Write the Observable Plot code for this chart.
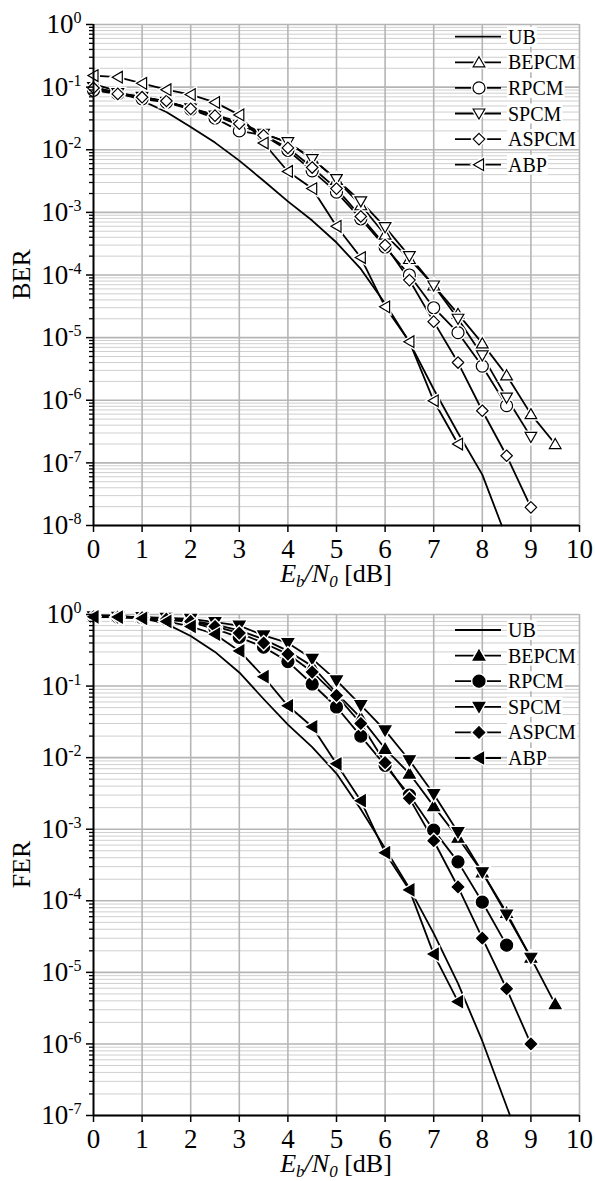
<!DOCTYPE html>
<html><head><meta charset="utf-8">
<script src="https://cdn.jsdelivr.net/npm/d3@7"></script>
<script src="https://cdn.jsdelivr.net/npm/@observablehq/plot@0.6"></script>
<style>
body{margin:0;background:#fff;}
#chart svg{display:block;}
#chart svg text{font-family:"Liberation Serif","Times New Roman",Times,serif;}
</style></head><body><div id="chart"></div>
<script>
// ---------- data ----------
const seriesNames = ["UB", "BEPCM", "RPCM", "SPCM", "ASPCM", "ABP"];
const xTicks = [0, 1, 2, 3, 4, 5, 6, 7, 8, 9, 10];
const ebn0 = [0, 0.5, 1, 1.5, 2, 2.5, 3, 3.5, 4, 4.5, 5, 5.5, 6, 6.5, 7, 7.5, 8, 8.5, 9, 9.5];
const berDecades = [1e-8, 1e-7, 1e-6, 1e-5, 1e-4, 1e-3, 1e-2, 1e-1, 1];
const ferDecades = [1e-7, 1e-6, 1e-5, 1e-4, 1e-3, 1e-2, 1e-1, 1];

// BER panel
const berUBx = [0, 0.5, 1, 1.5, 2, 2.5, 3, 3.5, 4, 4.5, 5, 5.5, 6, 6.5, 7, 7.5, 8, 8.4];
const berUB = [0.112, 0.086, 0.061, 0.040, 0.023, 0.013, 0.0067, 0.0032, 0.0015, 7.4e-4, 3.3e-4, 1.25e-4, 3.5e-5, 8.5e-6, 1.5e-6, 3.0e-7, 6.5e-8, 1e-8];
const berBEPCM = [0.10, 0.080, 0.070, 0.058, 0.046, 0.036, 0.028, 0.018, 0.013, 0.0072, 0.0033, 0.0013, 4.4e-4, 1.8e-4, 6.8e-5, 2.4e-5, 8.1e-6, 2.5e-6, 6.0e-7, 2.0e-7];
const berRPCM = [0.089, 0.078, 0.065, 0.057, 0.044, 0.032, 0.020, 0.017, 0.0098, 0.0046, 0.0021, 7.9e-4, 2.8e-4, 1.0e-4, 3.0e-5, 1.2e-5, 3.5e-6, 8.2e-7];
const berSPCM = [0.10, 0.080, 0.070, 0.058, 0.046, 0.035, 0.025, 0.018, 0.0132, 0.0071, 0.0034, 0.0015, 5.8e-4, 2.0e-4, 6.8e-5, 2.0e-5, 5.2e-6, 1.1e-6, 2.6e-7];
const berASPCM = [0.097, 0.078, 0.069, 0.060, 0.045, 0.035, 0.026, 0.017, 0.0107, 0.0052, 0.0024, 8.6e-4, 3.0e-4, 8.3e-5, 1.8e-5, 4.0e-6, 6.8e-7, 1.3e-7, 1.95e-8];
const berABP = [0.153, 0.144, 0.115, 0.091, 0.076, 0.057, 0.036, 0.0128, 0.0045, 0.0024, 6.0e-4, 1.9e-4, 3.1e-5, 8.6e-6, 9.8e-7, 2.0e-7];

// FER panel
const ferUBx = [0, 0.5, 1, 1.5, 2, 2.5, 3, 3.5, 4, 4.5, 5, 5.5, 6, 6.5, 7, 7.5, 8, 8.57];
const ferUB = [0.98, 0.96, 0.90, 0.74, 0.50, 0.30, 0.155, 0.066, 0.029, 0.014, 0.006, 0.0019, 5.4e-4, 1.5e-4, 3.5e-5, 7.0e-6, 1.1e-6, 1e-7];
const ferBEPCM = [0.93, 0.93, 0.91, 0.88, 0.82, 0.72, 0.60, 0.45, 0.31, 0.19, 0.080, 0.036, 0.0133, 0.0060, 0.0021, 7.6e-4, 2.5e-4, 6.8e-5, 1.6e-5, 3.6e-6];
const ferRPCM = [0.93, 0.92, 0.90, 0.85, 0.78, 0.63, 0.48, 0.35, 0.22, 0.107, 0.051, 0.020, 0.0078, 0.0030, 9.7e-4, 3.5e-4, 9.6e-5, 2.4e-5];
const ferSPCM = [0.94, 0.93, 0.92, 0.90, 0.87, 0.78, 0.70, 0.51, 0.40, 0.24, 0.12, 0.054, 0.024, 0.0092, 0.0031, 9.1e-4, 2.5e-4, 6.4e-5, 1.6e-5];
const ferASPCM = [0.93, 0.92, 0.90, 0.86, 0.80, 0.68, 0.55, 0.40, 0.28, 0.157, 0.074, 0.030, 0.0085, 0.0027, 6.9e-4, 1.56e-4, 3.0e-5, 5.9e-6, 1.0e-6];
const ferABP = [0.93, 0.92, 0.88, 0.80, 0.68, 0.53, 0.31, 0.135, 0.053, 0.027, 0.0082, 0.0025, 4.7e-4, 1.42e-4, 1.8e-5, 3.9e-6];

// ---------- symbols ----------
const SERIF = "Liberation Serif, Times New Roman, Times, serif";
const poly = (pts) => ({draw(ctx, size) {
  const r = Math.sqrt(size / Math.PI);
  ctx.moveTo(pts[0][0] * r, pts[0][1] * r);
  for (let i = 1; i < pts.length; i++) ctx.lineTo(pts[i][0] * r, pts[i][1] * r);
  ctx.closePath();
}});
const triUp = poly([[0, -1.05], [1.1, 0.85], [-1.1, 0.85]]);
const triDown = poly([[0, 1.05], [1.1, -0.85], [-1.1, -0.85]]);
const triLeft = poly([[-1.05, 0], [0.85, -1.1], [0.85, 1.1]]);
const diamond = poly([[0, -1.15], [1.15, 0], [0, 1.15], [-1.15, 0]]);
const circle = d3.symbolCircle;
const symbolOf = {BEPCM: triUp, RPCM: circle, SPCM: triDown, ASPCM: diamond, ABP: triLeft};
const radiusOf = {BEPCM: 5.3, RPCM: 6, SPCM: 5.3, ASPCM: 5, ABP: 5.3};

const rowsOf = (name, xs, ys) => ys.map((v, i) => ({name, x: xs[i], y: v}));

function panel(cfg) {
  const {decades, ubx, ub, vals, height, marginBottom, filled} = cfg;
  const minors = decades.slice(0, -1).flatMap(d => [2, 3, 4, 5, 6, 7, 8, 9].map(k => k * d));
  const names = ["BEPCM", "RPCM", "SPCM", "ASPCM", "ABP"];
  const sets = names.map(n => ({name: n, rows: rowsOf(n, ebn0, vals[n])}));
  const lineRows = rowsOf("UB", ubx, ub).concat(...sets.map(s => s.rows));
  const marks = [
    Plot.ruleY(minors, {stroke: "#cfcfcf", strokeWidth: 1}),
    Plot.ruleY(decades, {stroke: "#b5b5b5", strokeWidth: 1.6}),
    Plot.ruleX(xTicks.slice(1), {stroke: "#b5b5b5", strokeWidth: 1.6}),
    Plot.line(lineRows, {x: "x", y: "y", z: "name", stroke: "black", strokeWidth: 1.8}),
  ];
  for (const s of sets) {
    marks.push(Plot.dot(s.rows, {x: "x", y: "y", symbol: symbolOf[s.name], r: radiusOf[s.name], fill: "white", stroke: "white", strokeWidth: 4}));
    marks.push(Plot.dot(s.rows, {x: "x", y: "y", symbol: symbolOf[s.name], r: radiusOf[s.name], fill: filled ? "black" : "white", stroke: "black", strokeWidth: 1.2}));
  }
  marks.push(
    Plot.ruleX([0], {stroke: "black", strokeWidth: 2}),
    Plot.ruleY([decades[0]], {stroke: "black", strokeWidth: 2}),
    Plot.axisY(minors, {tickSize: 4, tickFormat: () => "", stroke: "black", strokeWidth: 1.3, label: null}),
    Plot.axisY(decades, {tickSize: 7, tickPadding: 5, tickFormat: d => "10^" + Math.round(Math.log10(d)), fontSize: 27, stroke: "black", strokeWidth: 1.5, label: null}),
    Plot.axisX(xTicks, {tickSize: 7, tickPadding: 6, tickFormat: d => String(d), fontSize: 27, stroke: "black", strokeWidth: 1.5, label: null})
  );
  return Plot.plot({
    width: 595, height, marginLeft: 93, marginRight: 16, marginTop: 24, marginBottom,
    style: {fontFamily: SERIF, fontSize: "27px", background: "white", color: "black", overflow: "visible"},
    x: {domain: [0, 10], label: null},
    y: {type: "log", domain: [decades[0], 1], label: null},
    marks
  });
}

function decorate(svg, cfg) {
  const s = d3.select(svg);
  s.attr("font-family", SERIF);
  // superscript exponents on y tick labels
  s.selectAll("text").each(function() {
    const t = d3.select(this);
    const m = (this.textContent || "").match(/^10\^(-?\d+)$/);
    if (!m) return;
    t.text("");
    t.append("tspan").text("10");
    t.append("tspan").attr("dy", "-10").attr("font-size", 16).text(m[1]);
  });
  const H = +svg.getAttribute("height");
  const top = 24, bottom = H - cfg.marginBottom;
  // y title
  s.append("text").attr("transform", `translate(30,${(top + bottom) / 2}) rotate(-90)`)
    .attr("text-anchor", "middle").attr("font-size", 26).attr("fill", "black").text(cfg.label);
  // x title
  const xt = s.append("text").attr("x", 336).attr("y", bottom + 57).attr("text-anchor", "middle")
    .attr("font-size", 26).attr("fill", "black");
  xt.append("tspan").attr("font-style", "italic").text("E");
  xt.append("tspan").attr("font-style", "italic").attr("font-size", 17).attr("dy", 5).text("b");
  xt.append("tspan").attr("font-style", "italic").attr("dy", -5).text("/N");
  xt.append("tspan").attr("font-style", "italic").attr("font-size", 17).attr("dy", 5).text("0");
  xt.append("tspan").attr("dy", -5).text(" [dB]");
  // legend
  const g = s.append("g").attr("text-anchor", "start");
  seriesNames.forEach((n, i) => {
    const y = cfg.legendY + i * 25.6;
    g.append("line").attr("x1", 455).attr("x2", 501).attr("y1", y).attr("y2", y)
      .attr("stroke", "black").attr("stroke-width", 1.8);
    if (symbolOf[n]) {
      const r = radiusOf[n];
      const path = d3.symbol(symbolOf[n], r * r * Math.PI)();
      g.append("path").attr("d", path).attr("transform", `translate(479,${y})`)
        .attr("fill", "white").attr("stroke", "white").attr("stroke-width", 4);
      g.append("path").attr("d", path).attr("transform", `translate(479,${y})`)
        .attr("fill", cfg.filled ? "black" : "white").attr("stroke", "black").attr("stroke-width", 1.2);
    }
    const bg = g.append("rect").attr("fill", "white");
    const t = g.append("text").attr("x", 508).attr("y", y).attr("dy", "0.35em").attr("text-anchor", "start")
      .attr("font-size", 20).attr("fill", "black").text(n);
    const bb = t.node().getBBox();
    bg.attr("x", bb.x - 1).attr("y", bb.y + 1).attr("width", bb.width + 2).attr("height", bb.height - 2);
  });
}

const cfgTop = {decades: berDecades, ubx: berUBx, ub: berUB,
  vals: {BEPCM: berBEPCM, RPCM: berRPCM, SPCM: berSPCM, ASPCM: berASPCM, ABP: berABP},
  height: 590, marginBottom: 65, filled: false, label: "BER", legendY: 36.7};
const cfgBot = {decades: ferDecades, ubx: ferUBx, ub: ferUB,
  vals: {BEPCM: ferBEPCM, RPCM: ferRPCM, SPCM: ferSPCM, ASPCM: ferASPCM, ABP: ferABP},
  height: 591, marginBottom: 66, filled: true, label: "FER", legendY: 40};

const root = document.getElementById("chart");
const svgTop = panel(cfgTop);
const svgBot = panel(cfgBot);
root.append(svgTop, svgBot);
decorate(svgTop, cfgTop);
decorate(svgBot, cfgBot);
</script></body></html>
